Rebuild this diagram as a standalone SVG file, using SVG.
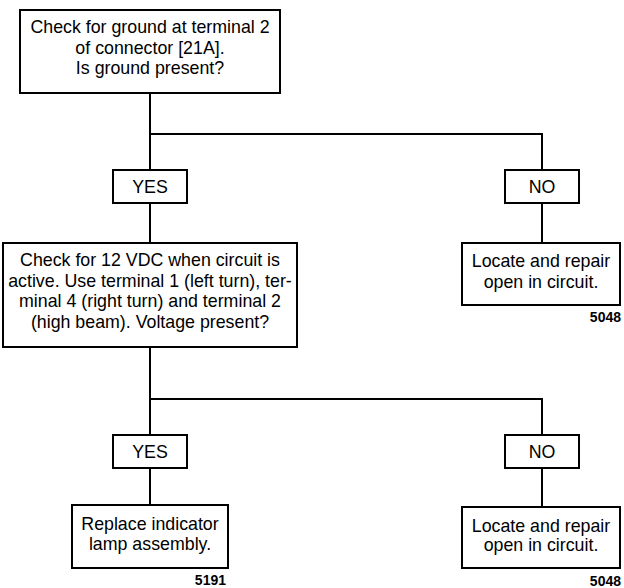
<svg xmlns="http://www.w3.org/2000/svg" width="624" height="588" viewBox="0 0 624 588">
<style>
.box{fill:#fff;stroke:#000;stroke-width:2}
.t{font-family:"Liberation Sans",Arial,sans-serif;font-size:17.8px;fill:#000;text-anchor:middle}
.n{font-family:"Liberation Sans",Arial,sans-serif;font-size:14px;font-weight:bold;fill:#000;text-anchor:end}
.c{fill:none;stroke:#000;stroke-width:2}
</style>
<rect width="624" height="588" fill="#fff"/>
<g id="connectors">
<path class="c" d="M150 93V170M150 134H542V170M150 203V243M542 203V243M150 347V435M150 399H542V435M150 468V505M542 468V507"/>
</g>
<g id="q1">
<rect class="box" x="20" y="10" width="260" height="83"/>
<text class="t" x="150" y="33">Check for ground at terminal 2</text>
<text class="t" x="150" y="53.5">of connector [21A].</text>
<text class="t" x="150" y="74">Is ground present?</text>
</g>
<g id="yes1">
<rect class="box" x="113" y="170" width="74" height="33"/>
<text class="t" x="150" y="193">YES</text>
</g>
<g id="no1">
<rect class="box" x="505" y="170" width="74" height="33"/>
<text class="t" x="542" y="193">NO</text>
</g>
<g id="q2">
<rect class="box" x="3" y="243" width="294" height="104"/>
<text class="t" x="150" y="266">Check for 12 VDC when circuit is</text>
<text class="t" x="150" y="286.5">active. Use terminal 1 (left turn), ter-</text>
<text class="t" x="150" y="307">minal 4 (right turn) and terminal 2</text>
<text class="t" x="150" y="327.5">(high beam). Voltage present?</text>
</g>
<g id="repair1">
<rect class="box" x="462" y="243" width="158" height="62"/>
<text class="t" x="541" y="266.5">Locate and repair</text>
<text class="t" x="541" y="287.5">open in circuit.</text>
<text class="n" x="621" y="322">5048</text>
</g>
<g id="yes2">
<rect class="box" x="113" y="435" width="74" height="33"/>
<text class="t" x="150" y="457.5">YES</text>
</g>
<g id="no2">
<rect class="box" x="505" y="435" width="74" height="33"/>
<text class="t" x="542" y="457.5">NO</text>
</g>
<g id="replace">
<rect class="box" x="72" y="505" width="156" height="63"/>
<text class="t" x="150" y="529.5">Replace indicator</text>
<text class="t" x="150" y="549.5">lamp assembly.</text>
<text class="n" x="226" y="585">5191</text>
</g>
<g id="repair2">
<rect class="box" x="462" y="507" width="158" height="61"/>
<text class="t" x="541" y="532">Locate and repair</text>
<text class="t" x="541" y="551">open in circuit.</text>
<text class="n" x="621" y="585.5">5048</text>
</g>
</svg>
